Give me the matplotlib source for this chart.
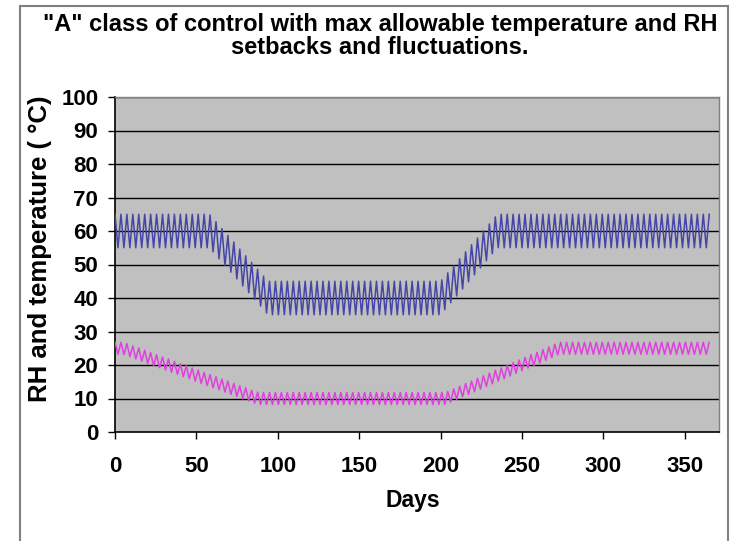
import numpy as np
import matplotlib
matplotlib.use("Agg")
import matplotlib.pyplot as plt
from matplotlib.patches import Rectangle

# -----------------------------
# DATA (turning points of the daily fluctuation)
# -----------------------------
rh = [
    65, 55, 65, 55, 65, 55, 65, 55, 65, 55,
    65, 55, 65, 55, 65, 55, 65, 55, 65, 55,
    65, 55, 65, 55, 65, 55, 65, 55, 65, 55,
    65, 55,
    64.8, 53.8, 62.8, 51.7, 60.7, 49.7, 58.7, 47.7, 56.7, 45.7,
    54.6, 43.6, 52.6, 41.6, 50.6, 39.6, 48.6, 37.6, 46.5, 35.5,
    45, 35, 45, 35, 45, 35, 45, 35, 45, 35,
    45, 35, 45, 35, 45, 35, 45, 35, 45, 35,
    45, 35, 45, 35, 45, 35, 45, 35, 45, 35,
    45, 35, 45, 35, 45, 35, 45, 35, 45, 35,
    45, 35, 45, 35, 45, 35, 45, 35, 45, 35,
    45, 35, 45, 35, 45, 35, 45, 35,
    45.4, 36.5, 47.5, 38.6, 49.6, 40.6, 51.7, 42.7, 53.8, 44.8,
    55.9, 46.9, 57.9, 49.0, 60.0, 51.1, 62.1, 53.2, 64.2, 55,
    65, 55, 65, 55, 65, 55, 65, 55, 65, 55,
    65, 55, 65, 55, 65, 55, 65, 55, 65, 55,
    65, 55, 65, 55, 65, 55, 65, 55, 65, 55,
    65, 55, 65, 55, 65, 55, 65, 55, 65, 55,
    65, 55, 65, 55, 65, 55, 65, 55, 65, 55,
    65, 55, 65, 55, 65, 55, 65, 55, 65, 55,
    65, 55, 65, 55, 65, 55, 65, 55, 65, 55,
    65,
]

temp = [
    26.8, 23.2, 26.8, 23.1, 26.4, 22.5, 25.7, 21.8, 25.1, 21.1,
    24.4, 20.5, 23.7, 19.8, 23.1, 19.2, 22.4, 18.5, 21.8, 17.8,
    21.1, 17.2, 20.4, 16.5, 19.8, 15.9, 19.1, 15.2, 18.5, 14.5,
    17.8, 13.9, 17.1, 13.2, 16.5, 12.6, 15.8, 11.9, 15.2, 11.2,
    14.5, 10.6, 13.8, 9.9, 13.2, 9.3, 12.5, 8.6, 11.9,
    8.2, 11.8, 8.2, 11.8, 8.2, 11.8, 8.2, 11.8, 8.2, 11.8,
    8.2, 11.8, 8.2, 11.8, 8.2, 11.8, 8.2, 11.8, 8.2, 11.8,
    8.2, 11.8, 8.2, 11.8, 8.2, 11.8, 8.2, 11.8, 8.2, 11.8,
    8.2, 11.8, 8.2, 11.8, 8.2, 11.8, 8.2, 11.8, 8.2, 11.8,
    8.2, 11.8, 8.2, 11.8, 8.2, 11.8, 8.2, 11.8, 8.2, 11.8,
    8.2, 11.8, 8.2, 11.8, 8.2, 11.8, 8.2, 11.8, 8.2, 11.8,
    8.2, 11.8, 8.2,
    12.1, 8.9, 12.9, 9.7, 13.7, 10.5, 14.5, 11.2, 15.2, 12.0,
    16.0, 12.8, 16.8, 13.6, 17.6, 14.4, 18.4, 15.2, 19.1, 15.9,
    19.9, 16.7, 20.7, 17.5, 21.5, 18.3, 22.3, 19.1, 23.1, 19.8,
    23.8, 20.6, 24.6, 21.4, 25.4, 22.2, 26.2, 23.0,
    26.8, 23.2, 26.8, 23.2, 26.8, 23.2, 26.8, 23.2, 26.8, 23.2,
    26.8, 23.2, 26.8, 23.2, 26.8, 23.2, 26.8, 23.2, 26.8, 23.2,
    26.8, 23.2, 26.8, 23.2, 26.8, 23.2, 26.8, 23.2, 26.8, 23.2,
    26.8, 23.2, 26.8, 23.2, 26.8, 23.2, 26.8, 23.2, 26.8, 23.2,
    26.8, 23.2, 26.8, 23.2, 26.8, 23.2, 26.8, 23.2, 26.8, 23.2,
    26.8,
]

days_rh = np.linspace(0, 365, len(rh))
days_temp = np.linspace(0, 365, len(temp))

x_ticks = [0, 50, 100, 150, 200, 250, 300, 350]
y_ticks = [0, 10, 20, 30, 40, 50, 60, 70, 80, 90, 100]

title = '"A" class of control with max allowable temperature and RH\nsetbacks and fluctuations.'

# -----------------------------
# PLOT
# -----------------------------
plt.rcParams['font.family'] = ['Liberation Sans', 'DejaVu Sans']

W, H = 735, 541
fig = plt.figure(figsize=(W / 100, H / 100), dpi=100)

# outer chart border
fig.patches.append(Rectangle((20 / W, -0.05), 708 / W, 1.05 - 6 / H,
                             transform=fig.transFigure, fill=False,
                             edgecolor='#808080', linewidth=1.5))

ax = fig.add_axes([115 / W, 1 - 432 / H, 604 / W, 335 / H])
ax.set_facecolor('#c0c0c0')

for y in y_ticks[1:]:
    ax.axhline(y, color='black', linewidth=1.0, zorder=1)

ax.plot(days_rh, rh, color='#4646a6', linewidth=1.1, zorder=3)
ax.plot(days_temp, temp, color='#e040e0', linewidth=1.1, zorder=3)

ax.set_xlim(0, 371)
ax.set_ylim(0, 100)
ax.set_xticks(x_ticks)
ax.set_yticks(y_ticks)

for s in ['top', 'right']:
    ax.spines[s].set_color('#808080')
    ax.spines[s].set_linewidth(1.0)
for s in ['left', 'bottom']:
    ax.spines[s].set_color('black')
    ax.spines[s].set_linewidth(1.2)

ax.tick_params(axis='x', direction='out', length=5, width=1, pad=12, labelsize=16)
ax.tick_params(axis='y', direction='out', length=5, width=1, pad=7, labelsize=16)
for lab in ax.get_xticklabels() + ax.get_yticklabels():
    lab.set_fontweight('bold')

fig.text(380 / W, 1 - 36 / H, title, ha='center', va='center',
         fontsize=17, fontweight='bold', linespacing=1.05)
fig.text(40 / W, 1 - 249 / H, 'RH and temperature ( °C)', rotation=90,
         ha='center', va='center', fontsize=18.5, fontweight='bold')
fig.text(413 / W, 1 - 501 / H, 'Days', ha='center', va='center',
         fontsize=16.5, fontweight='bold')

fig.savefig('out.png', dpi=100, facecolor='white')
